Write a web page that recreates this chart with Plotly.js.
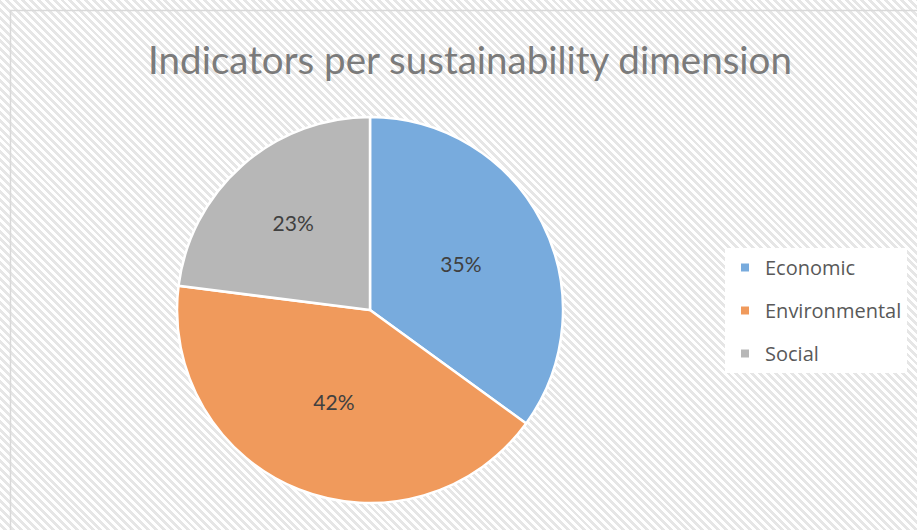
<!DOCTYPE html>
<html>
<head>
<meta charset="utf-8">
<script src="https://cdn.plot.ly/plotly-3.0.1.min.js"></script>
<style>
  html, body { margin: 0; padding: 0; }
  body {
    width: 917px; height: 530px; overflow: hidden;
    background: repeating-linear-gradient(45deg, #ffffff 0px, #ffffff 2.8px, #e6e6e6 2.8px, #e6e6e6 5.6px);
  }
  #chart { width: 917px; height: 530px; }
</style>
</head>
<body>
<div id="chart"></div>
<script>
const categories = ["Economic", "Environmental", "Social"];
const shares = [35, 42, 23];
const sliceColors = ["#78abdd", "#f09a5c", "#b7b7b7"];
const titleText = "Indicators per sustainability dimension";

const FONT = "Lato, 'Open Sans', sans-serif";
const LEGEND_FONT = "'Open Sans', Lato, sans-serif";

const pieTrace = {
  type: "pie",
  labels: categories,
  values: shares,
  sort: false,
  direction: "clockwise",
  rotation: 0,
  textinfo: "percent",
  textposition: "inside",
  insidetextorientation: "horizontal",
  texttemplate: "%{percent:.0%}",
  textfont: { family: FONT, size: 21, color: "#404040" },
  marker: { colors: sliceColors, line: { color: "#ffffff", width: 2.5 } },
  showlegend: false,
  hoverinfo: "label+percent",
  domain: { x: [0.1925, 0.6145], y: [0.0509, 0.7792] }
};

const legendTraces = categories.map((c, i) => ({
  type: "scatter",
  mode: "markers",
  x: [null], y: [null],
  name: c,
  legendgroup: c,
  marker: { symbol: "square", size: 8, color: sliceColors[i] },
  showlegend: true,
  hoverinfo: "skip"
}));

const layout = {
  width: 917, height: 530,
  margin: { l: 0, r: 0, t: 0, b: 0 },
  paper_bgcolor: "rgba(0,0,0,0)",
  plot_bgcolor: "rgba(0,0,0,0)",
  font: { family: FONT, color: "#595959" },
  title: {
    text: titleText,
    font: { family: FONT, size: 38.5, color: "#7b7b7b" },
    x: 470 / 917, xanchor: "center",
    y: 1 - 61 / 530, yanchor: "middle"
  },
  xaxis: { visible: false },
  yaxis: { visible: false },
  showlegend: true,
  legend: {
    x: 725 / 917, xanchor: "left",
    y: 1 - 248 / 530, yanchor: "top",
    bgcolor: "#ffffff",
    borderwidth: 0,
    entrywidth: 215,
    font: { family: LEGEND_FONT, size: 20, color: "#595959" },
    tracegroupgap: 14,
    traceorder: "grouped"
  },
  shapes: [{
    type: "rect", xref: "paper", yref: "paper",
    x0: 10.5 / 917, x1: 1.02, y0: -0.02, y1: 1 - 10.5 / 530,
    line: { color: "#d9d9d9", width: 1.5 },
    fillcolor: "rgba(0,0,0,0)", layer: "below"
  }]
};

Plotly.newPlot("chart", [pieTrace, ...legendTraces], layout, { displayModeBar: false, staticPlot: true });
</script>
</body>
</html>
